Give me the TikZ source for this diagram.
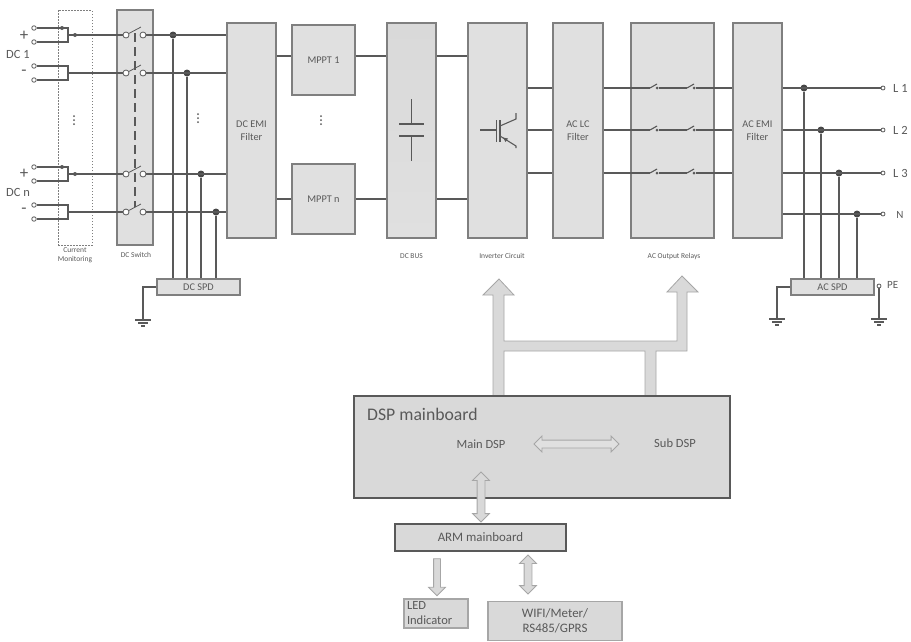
\documentclass[tikz,border=0pt]{standalone}
\usepackage{fontspec}
\setmainfont{Carlito}
\usetikzlibrary{shapes.arrows}
\definecolor{wirec}{HTML}{595959}
\definecolor{edgec}{HTML}{7F7F7F}
\definecolor{boxc}{HTML}{E0E0E0}
\definecolor{boardc}{HTML}{D9D9D9}
\definecolor{arrowc}{HTML}{A6A6A6}
\begin{document}
\begin{tikzpicture}[x=1pt,y=-1pt,
    wire/.style={draw=wirec,line width=1.1pt},
    box/.style={draw=edgec,fill=boxc,line width=1.1pt,inner sep=0pt,align=center,text=wirec,font=\fontsize{10.3}{12.5}\selectfont},
    board/.style={box,draw=wirec,fill=boardc},
    tiny/.style={text=wirec,inner sep=0pt,align=center,font=\fontsize{7.5}{9}\selectfont},
    lbl/.style={text=wirec,inner sep=0pt,font=\fontsize{12.5}{15}\selectfont},
    term/.style={circle,draw=wirec,fill=white,line width=0.8pt,inner sep=0pt,minimum size=4.5pt},
    joint/.style={circle,fill=wirec!80!black,inner sep=0pt,minimum size=7pt},
    smalljoint/.style={circle,fill=wirec,inner sep=0pt,minimum size=4pt},
    pipe/.style={draw=arrowc,fill=boardc,line width=0.8pt},
    vlink/.style={pipe,double arrow,minimum width=16pt,double arrow head extend=4.5pt,double arrow tip angle=90,inner sep=3.5pt,shape border rotate=90},
    earth/.pic={\draw[wire] (-8,0)--(8,0) (-5,3)--(5,3) (-2,6)--(2,6);}]
\useasboundingbox (0,0) rectangle (911,641);

    %Bloques de potencia
    \node[box,draw=edgec,line width=0.9pt,fill=none,dash pattern=on 1.5pt off 1.5pt,minimum width=34,minimum height=235] (curmon) at (75,127.5) {};
    \node[box,minimum width=36,minimum height=235] (dcsw) at (135,127.5) {};
    \node[box,minimum width=49,minimum height=215] (dcemi) at (251.5,130.5) {DC EMI\\Filter};
    \node[box,minimum width=63,minimum height=70] (mppta) at (323.5,60) {MPPT 1};
    \node[box,minimum width=63,minimum height=70] (mpptn) at (323.5,199) {MPPT n};
    \node[box,top color=boardc,bottom color=boxc,minimum width=49,minimum height=215] (dcbus) at (411.5,130.5) {};
    \node[box,minimum width=59,minimum height=215] (inv) at (497.5,130.5) {};
    \node[box,minimum width=50,minimum height=215] (aclc) at (578,130.5) {AC LC\\Filter};
    \node[box,minimum width=83,minimum height=215] (relay) at (672.5,130.5) {};
    \node[box,minimum width=49,minimum height=215] (acemi) at (757.5,130.5) {AC EMI\\Filter};
    \node[box,minimum width=83,minimum height=16] (dcspd) at (198.5,287) {DC SPD};
    \node[box,minimum width=83,minimum height=16] (acspd) at (832.5,287) {AC SPD};

    %Etiquetas pequenas
    \node[tiny] (tcur) at (75,255.5) {Current\\Monitoring};
    \node[tiny] (tsw) at (136,255) {DC Switch};
    \node[tiny] (tbus) at (411.5,256) {DC BUS};
    \node[tiny] (tinv) at (502,256) {Inverter Circuit};
    \node[tiny] (trel) at (674,256) {AC Output Relays};

    %Entradas DC
    \foreach \y/\n/\jx in {35/a/173,73/b/187,174/c/201,212/d/216}{
        \node[term] (tp\n) at (34,\y-7) {};
        \node[term] (tm\n) at (34,\y+7) {};
        \coordinate (k\n) at (68,\y);
        \node[term,minimum size=6pt] (swl\n) at (126,\y) {};
        \node[term,minimum size=6pt] (swr\n) at (143,\y) {};
        \coordinate (bl\n) at (141,\y-8);
        \node[joint] (j\n) at (\jx,\y) {};
        \draw[wire] (tp\n) -| (k\n);
        \draw[wire] (tm\n) -| (k\n);
        \draw[wire] (k\n) -- (swl\n);
        \draw[wire,line width=0.8pt] (swl\n) -- (bl\n);
        \draw[wire] (swr\n) -- (dcemi.west |- swr\n);
        \draw[wire] (j\n) -- (j\n |- dcspd.north);
    }
    \foreach \y/\n in {35/a,174/c}{
        \node[smalljoint] (sj\n) at (62,\y-7) {};
        \node[smalljoint] (st\n) at (75,\y) {};
    }
    \coordinate (lka) at (135,33);
    \coordinate (lkd) at (135,207);
    \draw[wire,dash pattern=on 9pt off 5pt] (lka) -- (lkd);
    \node[lbl,font=\fontsize{17}{17}\selectfont] (plusa) at (24,36) {+};
    \node[lbl,font=\fontsize{17}{17}\selectfont] (minusa) at (24,73) {-};
    \node[lbl] (dca) at (18,54) {DC 1};
    \node[lbl,font=\fontsize{17}{17}\selectfont] (plusn) at (24,174) {+};
    \node[lbl,font=\fontsize{17}{17}\selectfont] (minusn) at (24,211) {-};
    \node[lbl] (dcn) at (18,192) {DC n};
    \foreach \x/\yc in {74/120,198/118,321/120}{
        \foreach \d in {-4,0,4}{
            \fill[wirec] (\x,\yc+\d) circle (1);
        }
    }

    %Bus DC
    \coordinate (busa) at (0,56);
    \coordinate (busn) at (0,199);
    \foreach \b/\m in {busa/mppta,busn/mpptn}{
        \draw[wire] (dcemi.east |- \b) -- (\m.west |- \b);
        \draw[wire] (\m.east |- \b) -- (dcbus.west |- \b);
        \draw[wire] (dcbus.east |- \b) -- (inv.west |- \b);
    }
    \draw[wire] (411.5,99) -- (411.5,124) (399,124) -- (424,124);
    \draw[wire] (399,136) -- (424,136) (411.5,136) -- (411.5,161);

    %IGBT
    \draw[wire] (480,130) -- (496,130);
    \draw[wire,line width=1.3pt] (496.5,120) -- (496.5,142) (500,120) -- (500,142);
    \draw[wire] (500,126) -- (516,119) -- (516,113);
    \draw[wire] (500,136) -- (516,146) -- (516,148);
    \fill[wirec] (503,137.5) -- (508,138.5) -- (505.5,142) -- cycle;

    %Salida AC
    \foreach \y/\n in {88/a,130/b,173/c}{
        \coordinate (row\n) at (0,\y);
        \draw[wire] (inv.east |- row\n) -- (aclc.west |- row\n);
        \coordinate (ra\n) at (650,\y);
        \node[smalljoint,minimum size=3pt] (rb\n) at (657,\y) {};
        \coordinate (rc\n) at (687,\y);
        \node[smalljoint,minimum size=3pt] (rd\n) at (694,\y) {};
        \draw[wire] (aclc.east |- row\n) -- (ra\n);
        \draw[wire] (ra\n) -- ++(7,-4);
        \draw[wire] (rb\n) -- (rc\n);
        \draw[wire] (rc\n) -- ++(7,-4);
        \draw[wire] (rd\n) -- (acemi.west |- row\n);
    }
    \foreach \y/\n/\jx/\t in {88/a/804/L 1,130/b/821/L 2,173/c/839/L 3}{
        \node[term,minimum size=4pt] (out\n) at (883,\y) {};
        \node[joint] (q\n) at (\jx,\y) {};
        \node[lbl,anchor=west] (tl\n) at (893,\y) {\t};
        \draw[wire] (acemi.east |- out\n) -- (out\n);
        \draw[wire] (q\n) -- (q\n |- acspd.north);
    }
    \node[term,minimum size=4pt] (outn) at (883,214) {};
    \node[joint] (qn) at (857,214) {};
    \node[lbl,font=\fontsize{11}{13}\selectfont] (tln) at (900,215) {N};
    \draw[wire] (acemi.east |- outn) -- (outn);
    \draw[wire] (qn) -- (qn |- acspd.north);

    %Tierras
    \coordinate (gdc) at (143,320);
    \coordinate (gac) at (777,319);
    \coordinate (gpe) at (879,319);
    \draw[wire] (dcspd.west) -| (gdc);
    \draw[wire] (acspd.west) -| (gac);
    \node[term,minimum size=4pt] (pe) at (879,286) {};
    \draw[wire] (pe) -- (gpe);
    \node[lbl,anchor=west,font=\fontsize{11}{13}\selectfont] (tpe) at (887,285) {PE};
    \pic at (gdc) {earth};
    \pic at (gac) {earth};
    \pic at (gpe) {earth};

    %Control
    \draw[pipe] (493,396) -- (493,295) -- (483,295) -- (499,279) -- (514,295) -- (504,295) -- (504,341)
        -- (677,341) -- (677,292) -- (667,292) -- (682,276) -- (698,292) -- (687,292) -- (687,351)
        -- (656,351) -- (656,396) -- (645,396) -- (645,351) -- (504,351) -- (504,396) -- cycle;
    \node[board,minimum width=376,minimum height=102] (dsp) at (542,447) {};
    \node[text=wirec,anchor=west,inner sep=0pt,font=\fontsize{17.7}{20}\selectfont] (tdsp) at (367,414) {DSP mainboard};
    \node[lbl] (tmain) at (481,444) {Main DSP};
    \node[lbl] (tsub) at (675,443) {Sub DSP};
    \node[vlink,fill=boxc,shape border rotate=0,minimum height=85pt,minimum width=15pt,double arrow head extend=4pt] (dsplink) at (576.5,444) {};
    \node[vlink,minimum height=50pt] (armlink) at (481,497) {};
    \node[board,minimum width=171,minimum height=27,font=\fontsize{12.9}{15}\selectfont] (arm) at (480.5,537.5) {ARM mainboard};
    \node[pipe,single arrow,minimum width=16pt,single arrow head extend=5pt,single arrow tip angle=90,inner sep=3pt,shape border rotate=270,minimum height=37pt] (ledlink) at (437,575.5) {};
    \node[vlink,minimum height=39pt] (wifilink) at (528,574.5) {};
    \node[box,draw=arrowc,fill=boardc,minimum width=64,minimum height=29,align=left,font=\fontsize{12.5}{15}\selectfont,text width=58pt] (led) at (436,613.5) {LED\\Indicator};
    \node[box,draw=arrowc,fill=boardc,minimum width=134,minimum height=39,font=\fontsize{12.9}{15}\selectfont] (wifi) at (555,621) {WIFI/Meter/\\RS485/GPRS};
\end{tikzpicture}
\end{document}
